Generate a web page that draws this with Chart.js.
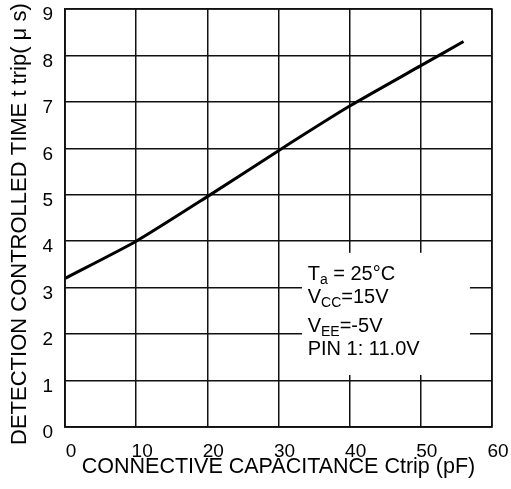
<!DOCTYPE html>
<html>
<head>
<meta charset="utf-8">
<script src="https://cdn.jsdelivr.net/npm/chart.js@4.4.1/dist/chart.umd.min.js"></script>
<style>
html,body{margin:0;padding:0;background:#fff;}
#wrap{width:511px;height:489px;}
</style>
</head>
<body>
<div id="wrap"><canvas id="c" width="511" height="489"></canvas></div>
<script>
const capacitance = [0, 10, 20, 30, 40, 50, 56];
const tripTime = [3.2, 4.0, 4.96, 5.95, 6.91, 7.78, 8.3];
const xTicks = [0, 10, 20, 30, 40, 50, 60];
const yTicks = [0, 1, 2, 3, 4, 5, 6, 7, 8, 9];
const xTitle = 'CONNECTIVE CAPACITANCE Ctrip (pF)';
const yTitle = 'DETECTION CONTROLLED TIME t trip( \u03BC s)\u00A0\u00A0';
const noteLines = [
  ['T', 'a', ' = 25\u00B0C'],
  ['V', 'CC', '=15V'],
  ['V', 'EE', '=-5V'],
  ['PIN 1: 11.0V', '', '']
];

const FONT = "'Liberation Sans', Arial, sans-serif";

const notePlugin = {
  id: 'note',
  afterDatasetsDraw(chart) {
    const {ctx, scales: {x, y}} = chart;
    const left = x.getPixelForValue(33.3), right = x.getPixelForValue(56.9);
    const top = y.getPixelForValue(3.75), bottom = y.getPixelForValue(1.12);
    ctx.save();
    ctx.fillStyle = '#fff';
    ctx.fillRect(left, top, right - left, bottom - top);
    ctx.fillStyle = '#000';
    ctx.textBaseline = 'alphabetic';
    ctx.textAlign = 'left';
    const baselines = [3.17, 2.67, 2.05, 1.55];
    const tx = x.getPixelForValue(34.1);
    noteLines.forEach((parts, i) => {
      const by = y.getPixelForValue(baselines[i]);
      let cx = tx;
      ctx.font = '20px ' + FONT;
      ctx.fillText(parts[0], cx, by);
      cx += ctx.measureText(parts[0]).width;
      if (parts[1]) {
        ctx.font = '14px ' + FONT;
        ctx.fillText(parts[1], cx, by + 4);
        cx += ctx.measureText(parts[1]).width;
      }
      if (parts[2]) {
        ctx.font = '20px ' + FONT;
        ctx.fillText(parts[2], cx, by);
      }
    });
    ctx.restore();
  }
};

new Chart(document.getElementById('c'), {
  type: 'line',
  data: {
    datasets: [{
      data: capacitance.map((v, i) => ({x: v, y: tripTime[i]})),
      borderColor: '#000',
      borderWidth: 3,
      pointRadius: 0,
      tension: 0.2,
      fill: false
    }]
  },
  options: {
    responsive: false,
    animation: false,
    layout: {padding: {top: 9, right: 19, left: 0, bottom: 0}},
    plugins: {legend: {display: false}, tooltip: {enabled: false}},
    scales: {
      x: {
        type: 'linear',
        min: xTicks[0], max: xTicks[xTicks.length - 1],
        afterBuildTicks: s => { s.ticks = xTicks.map(v => ({value: v})); },
        afterFit: s => { s.height = 62; s.paddingLeft = 0; s.paddingRight = 0; },
        grid: {color: '#111', lineWidth: 1.5, drawTicks: false},
        border: {color: '#111', width: 1.5},
        ticks: {color: '#000', font: {family: FONT, size: 19}, padding: 13, labelOffset: 6, maxRotation: 0},
        title: {display: true, text: xTitle, color: '#000', font: {family: FONT, size: 21.5}, padding: {top: 0, bottom: 9}}
      },
      y: {
        type: 'linear',
        min: yTicks[0], max: yTicks[yTicks.length - 1],
        afterBuildTicks: s => { s.ticks = yTicks.map(v => ({value: v})); },
        afterFit: s => { s.width = 65; s.paddingTop = 0; s.paddingBottom = 0; },
        grid: {color: '#111', lineWidth: 1.5, drawTicks: false},
        border: {color: '#111', width: 1.5},
        ticks: {color: '#000', font: {family: FONT, size: 19}, padding: 12, labelOffset: 6},
        title: {display: true, text: yTitle, color: '#000', font: {family: FONT, size: 22}, padding: {top: 7, bottom: 0}}
      }
    }
  },
  plugins: [notePlugin, {
    id: 'frame',
    afterDraw(chart) {
      const {ctx, chartArea: a} = chart;
      ctx.save();
      ctx.strokeStyle = '#111';
      ctx.lineWidth = 1.5;
      ctx.strokeRect(a.left, a.top, a.right - a.left, a.bottom - a.top);
      ctx.restore();
    }
  }]
});
</script>
</body>
</html>
